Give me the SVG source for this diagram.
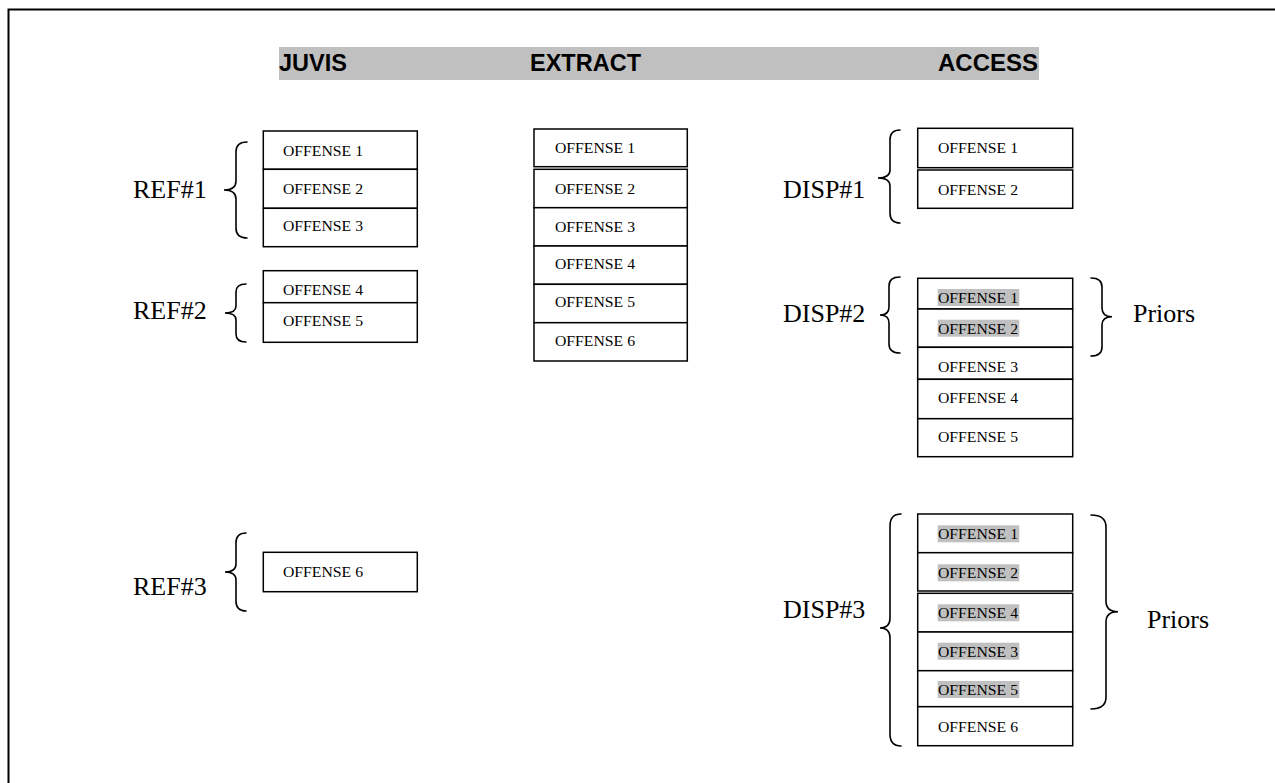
<svg xmlns="http://www.w3.org/2000/svg" width="1275" height="783" viewBox="0 0 1275 783">
  <style>
    .row { fill: #ffffff; stroke: #000000; stroke-width: 1.5; }
    .off { font-family: "Liberation Serif", "Times New Roman", serif; font-size: 14px; fill: #000000; }
    .big { font-family: "Liberation Serif", "Times New Roman", serif; font-size: 26px; fill: #000000; }
    .head { font-family: "Liberation Sans", Arial, sans-serif; font-size: 23px; font-weight: bold; fill: #000000; }
    .brace { fill: none; stroke: #000000; stroke-width: 1.6; stroke-linecap: round; }
    .hl { fill: #c0c0c0; }
  </style>

  <!-- page frame -->
  <rect x="8.5" y="9.5" width="1300" height="800" fill="#ffffff" stroke="#000000" stroke-width="2"/>

  <!-- column header band -->
  <g id="header">
    <rect x="279" y="47" width="760" height="33" fill="#c0c0c0"/>
    <text class="head" x="279" y="71" textLength="68" lengthAdjust="spacingAndGlyphs">JUVIS</text>
    <text class="head" x="530" y="71" textLength="111" lengthAdjust="spacingAndGlyphs">EXTRACT</text>
    <text class="head" x="938" y="71" textLength="100" lengthAdjust="spacingAndGlyphs">ACCESS</text>
  </g>

  <!-- JUVIS referrals -->
  <g id="ref1">
    <rect class="row" x="263.3" y="131" width="154" height="38.3"/>
    <rect class="row" x="263.3" y="169.3" width="154" height="39"/>
    <rect class="row" x="263.3" y="208.3" width="154" height="38.4"/>
    <text class="off" x="283" y="155.7" textLength="80" lengthAdjust="spacingAndGlyphs">OFFENSE 1</text>
    <text class="off" x="283" y="194" textLength="80" lengthAdjust="spacingAndGlyphs">OFFENSE 2</text>
    <text class="off" x="283" y="230.7" textLength="80" lengthAdjust="spacingAndGlyphs">OFFENSE 3</text>
  </g>
  <g id="ref2">
    <rect class="row" x="263.3" y="270.7" width="154" height="32"/>
    <rect class="row" x="263.3" y="302.7" width="154" height="39.6"/>
    <text class="off" x="283" y="295" textLength="80" lengthAdjust="spacingAndGlyphs">OFFENSE 4</text>
    <text class="off" x="283" y="325.7" textLength="80" lengthAdjust="spacingAndGlyphs">OFFENSE 5</text>
  </g>
  <g id="ref3">
    <rect class="row" x="263.3" y="552.3" width="154" height="39.4"/>
    <text class="off" x="283" y="576.7" textLength="80" lengthAdjust="spacingAndGlyphs">OFFENSE 6</text>
  </g>

  <!-- EXTRACT list -->
  <g id="extract">
    <rect class="row" x="534" y="129" width="153.3" height="37.7"/>
    <rect class="row" x="534" y="169.3" width="153.3" height="38.4"/>
    <rect class="row" x="534" y="207.7" width="153.3" height="38.3"/>
    <rect class="row" x="534" y="246" width="153.3" height="38.3"/>
    <rect class="row" x="534" y="284.3" width="153.3" height="38.4"/>
    <rect class="row" x="534" y="322.7" width="153.3" height="38.3"/>
    <text class="off" x="555" y="153.3" textLength="80" lengthAdjust="spacingAndGlyphs">OFFENSE 1</text>
    <text class="off" x="555" y="194" textLength="80" lengthAdjust="spacingAndGlyphs">OFFENSE 2</text>
    <text class="off" x="555" y="231.7" textLength="80" lengthAdjust="spacingAndGlyphs">OFFENSE 3</text>
    <text class="off" x="555" y="269.3" textLength="80" lengthAdjust="spacingAndGlyphs">OFFENSE 4</text>
    <text class="off" x="555" y="307.3" textLength="80" lengthAdjust="spacingAndGlyphs">OFFENSE 5</text>
    <text class="off" x="555" y="345.7" textLength="80" lengthAdjust="spacingAndGlyphs">OFFENSE 6</text>
  </g>

  <!-- ACCESS dispositions -->
  <g id="disp1">
    <rect class="row" x="917.7" y="128.3" width="155" height="39.4"/>
    <rect class="row" x="917.7" y="170" width="155" height="38.3"/>
    <text class="off" x="938" y="153" textLength="80" lengthAdjust="spacingAndGlyphs">OFFENSE 1</text>
    <text class="off" x="938" y="195" textLength="80" lengthAdjust="spacingAndGlyphs">OFFENSE 2</text>
  </g>
  <g id="disp2">
    <rect class="row" x="917.7" y="278.3" width="155" height="30.7"/>
    <rect class="row" x="917.7" y="309" width="155" height="38.3"/>
    <rect class="row" x="917.7" y="347.3" width="155" height="32"/>
    <rect class="row" x="917.7" y="379.3" width="155" height="39.4"/>
    <rect class="row" x="917.7" y="418.7" width="155" height="38"/>
    <rect class="hl" x="937.7" y="289" width="81.6" height="17"/>
    <rect class="hl" x="937.7" y="319.7" width="81.6" height="17"/>
    <text class="off" x="938" y="303.3" textLength="80" lengthAdjust="spacingAndGlyphs">OFFENSE 1</text>
    <text class="off" x="938" y="334" textLength="80" lengthAdjust="spacingAndGlyphs">OFFENSE 2</text>
    <text class="off" x="938" y="372.3" textLength="80" lengthAdjust="spacingAndGlyphs">OFFENSE 3</text>
    <text class="off" x="938" y="403.3" textLength="80" lengthAdjust="spacingAndGlyphs">OFFENSE 4</text>
    <text class="off" x="938" y="442.3" textLength="80" lengthAdjust="spacingAndGlyphs">OFFENSE 5</text>
  </g>
  <g id="disp3">
    <rect class="row" x="917.7" y="514" width="155" height="38.7"/>
    <rect class="row" x="917.7" y="552.7" width="155" height="38.3"/>
    <rect class="row" x="917.7" y="593.3" width="155" height="38.7"/>
    <rect class="row" x="917.7" y="632" width="155" height="38.7"/>
    <rect class="row" x="917.7" y="670.7" width="155" height="36"/>
    <rect class="row" x="917.7" y="706.7" width="155" height="39"/>
    <rect class="hl" x="937.7" y="525.3" width="81.6" height="17"/>
    <rect class="hl" x="937.7" y="564.3" width="81.6" height="17"/>
    <rect class="hl" x="937.7" y="604.3" width="81.6" height="17"/>
    <rect class="hl" x="937.7" y="642.7" width="81.6" height="17"/>
    <rect class="hl" x="937.7" y="681" width="81.6" height="17"/>
    <text class="off" x="938" y="539.3" textLength="80" lengthAdjust="spacingAndGlyphs">OFFENSE 1</text>
    <text class="off" x="938" y="578.3" textLength="80" lengthAdjust="spacingAndGlyphs">OFFENSE 2</text>
    <text class="off" x="938" y="618.3" textLength="80" lengthAdjust="spacingAndGlyphs">OFFENSE 4</text>
    <text class="off" x="938" y="656.7" textLength="80" lengthAdjust="spacingAndGlyphs">OFFENSE 3</text>
    <text class="off" x="938" y="695" textLength="80" lengthAdjust="spacingAndGlyphs">OFFENSE 5</text>
    <text class="off" x="938" y="731.7" textLength="80" lengthAdjust="spacingAndGlyphs">OFFENSE 6</text>
  </g>

  <!-- group labels -->
  <g id="labels">
    <text class="big" x="133" y="198">REF#1</text>
    <text class="big" x="133" y="319.3">REF#2</text>
    <text class="big" x="133" y="595">REF#3</text>
    <text class="big" x="783" y="198">DISP#1</text>
    <text class="big" x="783" y="321.7">DISP#2</text>
    <text class="big" x="783" y="618">DISP#3</text>
    <text class="big" x="1133" y="321.7">Priors</text>
    <text class="big" x="1147" y="628">Priors</text>
  </g>

  <!-- grouping braces -->
  <g id="braces">
    <path class="brace" d="M247,142 Q236,142 236,152 L236,181 Q236,190 224,190 Q236,190 236,199 L236,228 Q236,238 247,238"/>
    <path class="brace" d="M246,284 Q236,284 236,292 L236,306 Q236,313 225,313 Q236,313 236,320 L236,334 Q236,342 246,342"/>
    <path class="brace" d="M246,533 Q236,533 236,543 L236,564 Q236,572 225,572 Q236,572 236,580 L236,601 Q236,611 246,611"/>
    <path class="brace" d="M900,130 Q890,130 890,140 L890,170 Q890,178 878,178 Q890,178 890,186 L890,213 Q890,223 900,223"/>
    <path class="brace" d="M900,277 Q889,277 889,286 L889,307 Q889,315 880,315 Q889,315 889,323 L889,344 Q889,353 900,353"/>
    <path class="brace" d="M1091,278 Q1102,278 1102,287 L1102,308 Q1102,316.7 1112,316.7 Q1102,316.7 1102,325 L1102,347 Q1102,356 1091,356"/>
    <path class="brace" d="M901,514 Q890,514 890,526 L890,618 Q890,628 880,628 Q890,628 890,638 L890,734 Q890,746 901,746"/>
    <path class="brace" d="M1091,515 Q1106,515 1106,527 L1106,601 Q1106,611.7 1118,611.7 Q1106,611.7 1106,622 L1106,697 Q1106,709 1091,709"/>
  </g>
</svg>
